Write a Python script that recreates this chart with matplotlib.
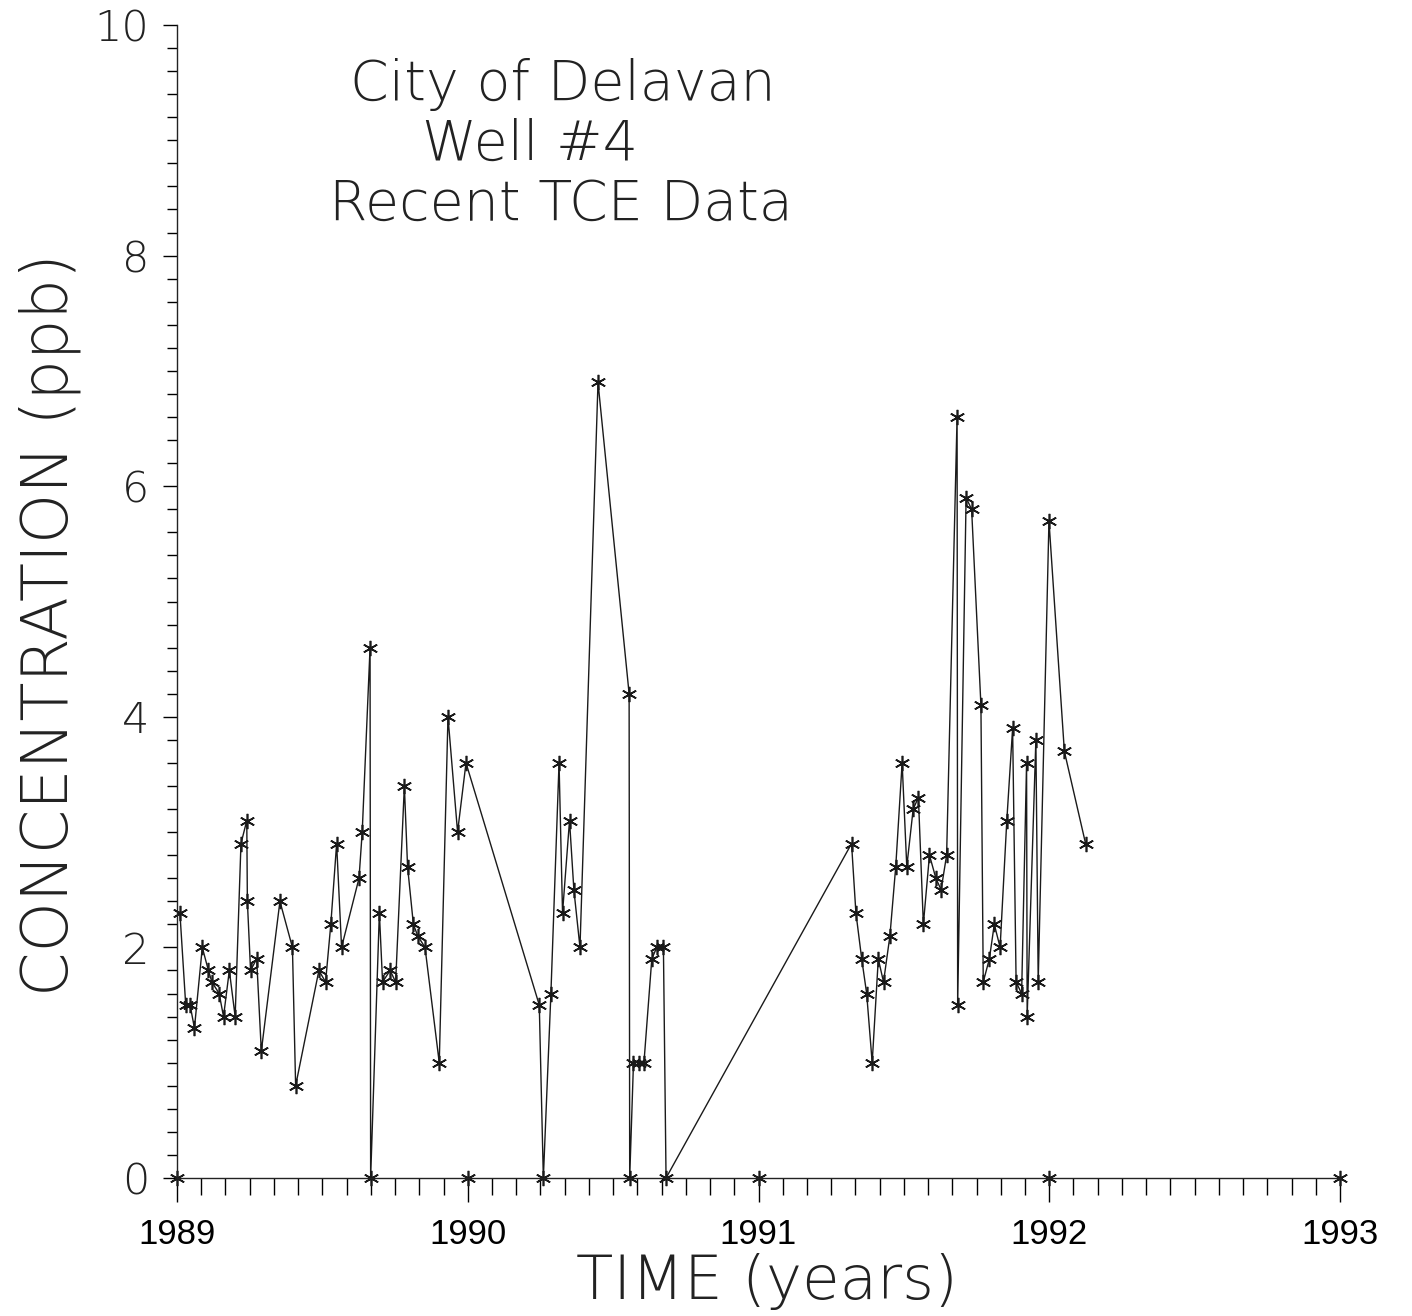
import matplotlib.pyplot as plt
from matplotlib.ticker import MultipleLocator

# ── data (decimal year, TCE in ppb) ────────────────────────────────────────────

sample_year = [
    1989.010, 1989.030, 1989.045, 1989.060, 1989.087, 1989.108, 1989.120,
    1989.145, 1989.160, 1989.180, 1989.200, 1989.220, 1989.240, 1989.242,
    1989.253, 1989.274, 1989.290, 1989.354, 1989.397, 1989.408, 1989.488,
    1989.511, 1989.529, 1989.549, 1989.566, 1989.626, 1989.637, 1989.664,
    1989.666, 1989.696, 1989.707, 1989.733, 1989.752, 1989.782, 1989.793,
    1989.813, 1989.828, 1989.853, 1989.902, 1989.932, 1989.965, 1989.994,
    1990.246, 1990.260, 1990.286, 1990.314, 1990.326, 1990.350, 1990.365,
    1990.386, 1990.448, 1990.555, 1990.557, 1990.570, 1990.588, 1990.606,
    1990.633, 1990.650, 1990.673, 1990.682,
    1991.320, 1991.335, 1991.355, 1991.372, 1991.391, 1991.412, 1991.430,
    1991.452, 1991.472, 1991.494, 1991.510, 1991.532, 1991.550, 1991.567,
    1991.588, 1991.610, 1991.628, 1991.647, 1991.683, 1991.685, 1991.714,
    1991.733, 1991.765, 1991.773, 1991.794, 1991.811, 1991.831, 1991.854,
    1991.874, 1991.886, 1991.905, 1991.922, 1991.924, 1991.954, 1991.962,
    1991.999, 1992.052, 1992.125,
]

tce_ppb = [
    2.3, 1.5, 1.5, 1.3, 2.0, 1.8, 1.7,
    1.6, 1.4, 1.8, 1.4, 2.9, 3.1, 2.4,
    1.8, 1.9, 1.1, 2.4, 2.0, 0.8, 1.8,
    1.7, 2.2, 2.9, 2.0, 2.6, 3.0, 4.6,
    0.0, 2.3, 1.7, 1.8, 1.7, 3.4, 2.7,
    2.2, 2.1, 2.0, 1.0, 4.0, 3.0, 3.6,
    1.5, 0.0, 1.6, 3.6, 2.3, 3.1, 2.5,
    2.0, 6.9, 4.2, 0.0, 1.0, 1.0, 1.0,
    1.9, 2.0, 2.0, 0.0,
    2.9, 2.3, 1.9, 1.6, 1.0, 1.9, 1.7,
    2.1, 2.7, 3.6, 2.7, 3.2, 3.3, 2.2,
    2.8, 2.6, 2.5, 2.8, 6.6, 1.5, 5.9,
    5.8, 4.1, 1.7, 1.9, 2.2, 2.0, 3.1,
    3.9, 1.7, 1.6, 3.6, 1.4, 3.8, 1.7,
    5.7, 3.7, 2.9,
]

# asterisks sitting on the time axis at each year
year_marks = [1989, 1990, 1991, 1992, 1993]
year_mark_val = [0, 0, 0, 0, 0]

year_labels = ["1989", "1990", "1991", "1992", "1993"]
conc_ticks = [0, 2, 4, 6, 8, 10]

title_lines = ["City of Delavan", "Well #4", "Recent TCE Data"]

# ── figure ─────────────────────────────────────────────────────────────────────

W, H = 1412, 1316
fig = plt.figure(figsize=(W / 100, H / 100), dpi=100)
ax = fig.add_axes([177 / W, 1 - 1178 / H, (1340 - 177) / W, (1178 - 25) / H])

star = (6, 2, 0)   # six-armed asterisk
ax.plot(sample_year, tce_ppb, color="#1a1a1a", lw=1.0,
        marker=star, markersize=11, markeredgewidth=1.2, clip_on=False)
ax.plot(year_marks, year_mark_val, ls="none", color="#1a1a1a",
        marker=star, markersize=11, markeredgewidth=1.2, clip_on=False)

ax.set_xlim(1989, 1993)
ax.set_ylim(0, 10)

for side in ["top", "right"]:
    ax.spines[side].set_visible(False)
for side in ["left", "bottom"]:
    ax.spines[side].set_linewidth(1.0)
    ax.spines[side].set_color("#222222")

ax.set_xticks(year_marks)
ax.set_xticklabels(year_labels, family="Liberation Sans", fontsize=25)
ax.xaxis.set_minor_locator(MultipleLocator(1 / 12))
ax.set_yticks(conc_ticks)
ax.set_yticklabels([str(v) for v in conc_ticks], family="DejaVu Sans",
                   fontweight="light", fontsize=31, color="#222222")
ax.yaxis.set_minor_locator(MultipleLocator(0.2))

ax.tick_params(axis="x", which="major", length=17, width=1, direction="out", pad=12)
ax.tick_params(axis="x", which="minor", length=12, width=1, direction="out")
ax.tick_params(axis="y", which="major", length=10, width=1, direction="out", pad=10)
ax.tick_params(axis="y", which="minor", length=7, width=1, direction="out")

ax.set_xlabel("TIME (years)", family="DejaVu Sans", fontweight="light",
              fontsize=44, color="#222222", va="center")
ax.xaxis.set_label_coords((767 - 177) / 1163, (1178 - 1282) / 1153)
ax.set_ylabel("CONCENTRATION (ppb)", family="DejaVu Sans", fontweight="light",
              fontsize=46, color="#222222", va="center")
ax.yaxis.set_label_coords((50 - 177) / 1163, (1178 - 625) / 1153)

# title block inside the plot area
title_pos = [(563, 100), (530, 160), (561, 220)]
for line, (px, py) in zip(title_lines, title_pos):
    fig.text(px / W, 1 - py / H, line, ha="center", va="baseline",
             family="DejaVu Sans", fontweight="light", fontsize=40,
             color="#222222")

plt.savefig("out.png", dpi=100)
